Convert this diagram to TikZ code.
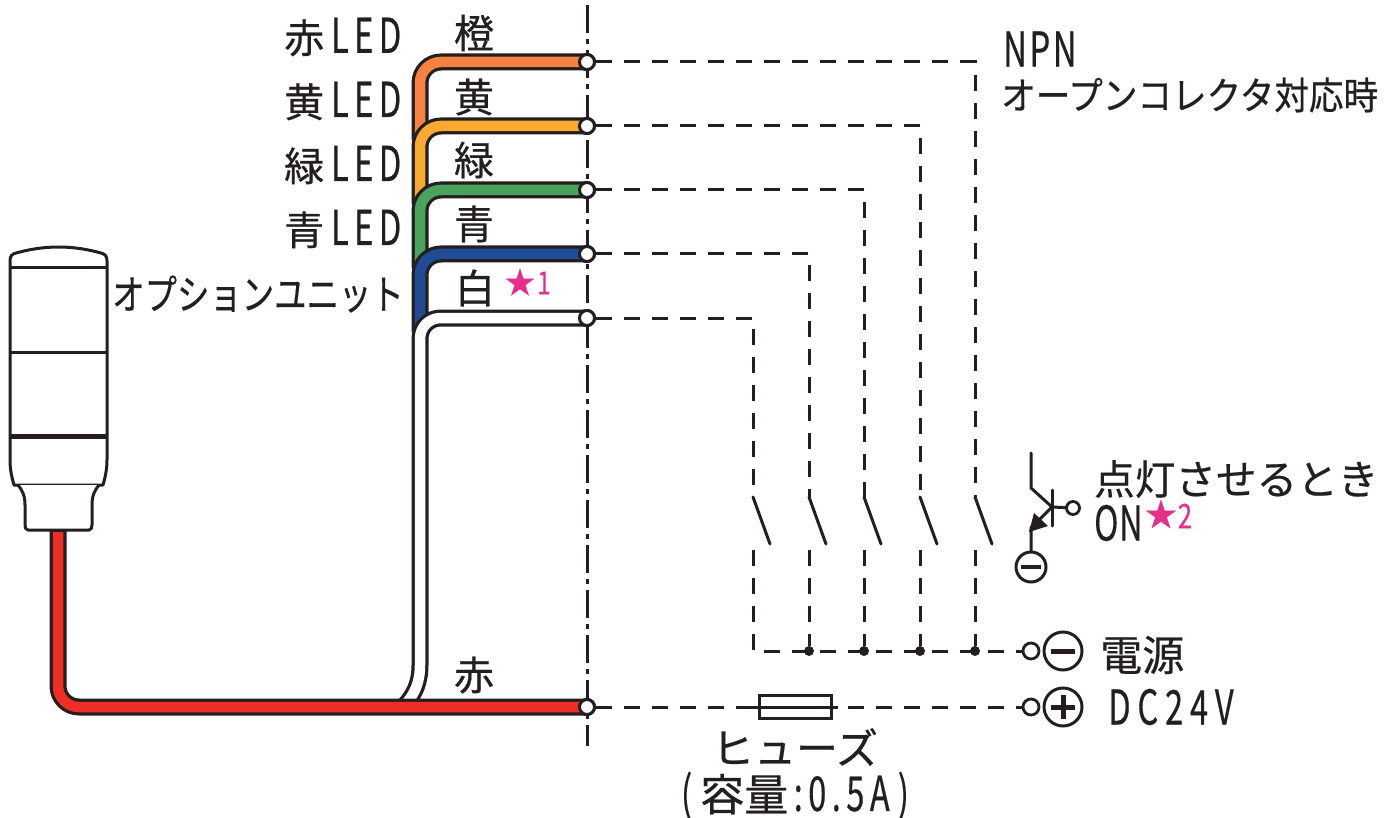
\documentclass[tikz,border=0pt]{standalone}
\usepackage{fontspec}
\usetikzlibrary{calc}
\setmainfont[FakeBold=0.5]{Noto Sans CJK JP}
\newcommand{\sx}[2]{\scalebox{#1}[1]{#2}}
\newcommand{\nl}[1]{\scalebox{0.68}[1]{\fontsize{48}{48}\selectfont #1}}
\newcommand{\gp}[1]{\hspace{#1pt}}
\definecolor{wo}{HTML}{F58240}
\definecolor{wy}{HTML}{F9A930}
\definecolor{wg}{HTML}{4AA35A}
\definecolor{wb}{HTML}{204C96}
\definecolor{wr}{HTML}{EE2E26}
\definecolor{ink}{HTML}{231F20}
\definecolor{pink}{HTML}{E62E8B}
\tikzset{
  x=1pt,y=-1pt,
  wireout/.style={line width=17pt,draw=ink,rounded corners=21pt},
  wirein/.style={line width=10.5pt,rounded corners=21pt},
  tailout/.style={line width=17pt,draw=ink,line join=round},
  tailin/.style={line width=10.5pt,draw=white,line join=round},
  term/.style={circle,draw=ink,fill=white,line width=3pt,minimum size=15pt,inner sep=0pt},
  term2/.style={circle,draw=ink,fill=white,line width=2.8pt,minimum size=16pt,inner sep=0pt},
  pole/.style={circle,draw=ink,fill=white,line width=3pt,minimum size=38pt,inner sep=0pt},
  jdot/.style={circle,fill=ink,minimum size=10pt,inner sep=0pt},
  dsh/.style={draw=ink,line width=3pt,dash pattern=on 16pt off 12pt},
  swl/.style={draw=ink,line width=3pt,line cap=round},
  body/.style={draw=ink,line width=3pt,line join=round},
  lab/.style={text=ink,font=\fontsize{38}{38}\selectfont,inner sep=0pt,anchor=center},
  lat/.style={text=ink,font=\fontsize{40}{40}\selectfont,inner sep=0pt,anchor=center},
  pstar/.style={text=pink,font=\fontsize{30}{30}\selectfont,inner sep=0pt,anchor=center},
}
\begin{document}
\begin{tikzpicture}
\useasboundingbox (0,0) rectangle (1397,818);
\fill[white] (0,0) rectangle (1397,818);

% centre dash-dot line
\coordinate (ctop) at (587,5);
\coordinate (cbot) at (587,746);
\draw[draw=ink,line width=3pt,dash pattern=on 28pt off 6pt on 5pt off 6pt] (ctop) -- (cbot);

% lamp
\draw[body,fill=white] (10,268) -- (10,261) .. controls (10,256) and (12,254) .. (16,253) .. controls (45,245) and (72,245) .. (101,253) .. controls (105,254) and (107,256) .. (107,261) -- (107,268) -- (107,436) -- (107,460) .. controls (107,470) and (105,478) .. (103,485) -- (14,485) .. controls (12,478) and (10,470) .. (10,460) -- (10,268) -- cycle;
\draw[body,fill=white] (18,485) .. controls (22,490) and (25,495) .. (25,505) -- (25,525) .. controls (25,528) and (26,530) .. (28,530) -- (89,530) .. controls (91,530) and (92,528) .. (92,525) -- (92,505) .. controls (92,495) and (95,490) .. (99,485);
\draw[body] (10,268) -- (107,268);
\draw[body] (10,352) -- (107,352);
\draw[draw=ink,line width=5pt] (10,436) -- (107,436);

% dashed circuit
\node[term] (to) at (587,62) {};
\node[term] (ty) at (587,126) {};
\node[term] (tg) at (587,190) {};
\node[term] (tb) at (587,254) {};
\node[term] (tw) at (587,318) {};
\node[term] (tr) at (587,707) {};
\node[term2] (tm) at (1031,651) {};
\node[term2] (tp) at (1031,707) {};

\coordinate (s1) at (753,497); \coordinate (s1e) at (770,544); \coordinate (s1b) at (753,550); \coordinate (b1) at (753,651);
\coordinate (s2) at (809,497); \coordinate (s2e) at (826,544); \coordinate (s2b) at (809,550);
\coordinate (s3) at (864,497); \coordinate (s3e) at (881,544); \coordinate (s3b) at (864,550);
\coordinate (s4) at (920,497); \coordinate (s4e) at (937,544); \coordinate (s4b) at (920,550);
\coordinate (s5) at (975,497); \coordinate (s5e) at (992,544); \coordinate (s5b) at (975,550);
\node[jdot] (j2) at (809,651) {};
\node[jdot] (j3) at (864,651) {};
\node[jdot] (j4) at (920,651) {};
\node[jdot] (j5) at (975,651) {};

\draw[dsh] (to) -| (s5);
\draw[dsh] (ty) -| (s4);
\draw[dsh] (tg) -| (s3);
\draw[dsh] (tb) -| (s2);
\draw[dsh] (tw) -| (s1);
\draw[swl] (s1) -- (s1e); \draw[swl] (s2) -- (s2e); \draw[swl] (s3) -- (s3e); \draw[swl] (s4) -- (s4e); \draw[swl] (s5) -- (s5e);
\draw[dsh] (s1b) -- (b1) -- (tm);
\draw[dsh] (s2b) -- (j2);
\draw[dsh] (s3b) -- (j3);
\draw[dsh] (s4b) -- (j4);
\draw[dsh] (s5b) -- (j5);

% fuse
\draw[dsh] (tr) -- (tp);
\node[draw=ink,fill=white,line width=3pt,minimum width=72pt,minimum height=23pt,inner sep=0pt] (fuse) at (795,707) {};
\coordinate (fl) at (752,707);
\coordinate (fr) at (838,707);
\draw[draw=ink,line width=3pt] (fl) -- (fr);

% poles
\node[pole] (pm) at (1063,651) {};
\draw[draw=ink,line width=5pt] ($(pm)+(-12,0)$) -- ($(pm)+(12,0)$);
\node[pole] (pp) at (1063,707) {};
\draw[draw=ink,line width=5pt] ($(pp)+(-12,0)$) -- ($(pp)+(12,0)$);
\draw[draw=ink,line width=5pt] ($(pp)+(0,-12)$) -- ($(pp)+(0,12)$);

% wires
\draw[wireout] (587,62) -- (420,62) -- (420,140);
\draw[wirein,draw=wo] (582,62) -- (420,62) -- (420,140);
\draw[wireout] (587,126) -- (420,126) -- (420,204);
\draw[wirein,draw=wy] (582,126) -- (420,126) -- (420,204);
\draw[wireout] (587,190) -- (420,190) -- (420,268);
\draw[wirein,draw=wg] (582,190) -- (420,190) -- (420,268);
\draw[wireout] (587,254) -- (420,254) -- (420,332);
\draw[wirein,draw=wb] (582,254) -- (420,254) -- (420,332);
\draw[tailout] (587,318) -- (441,318) .. controls (429,318) and (420,327) .. (420,339) -- (420,665) .. controls (420,682) and (415,695) .. (402,708);
\draw[tailin] (582,318) -- (441,318) .. controls (429,318) and (420,327) .. (420,339) -- (420,665) .. controls (420,682) and (415,695) .. (402,708);
\draw[wireout] (587,707) -- (58,707) -- (58,530);
\draw[wirein,draw=wr] (582,707) -- (58,707) -- (58,532);
\node[term] at (to) {};
\node[term] at (ty) {};
\node[term] at (tg) {};
\node[term] at (tb) {};
\node[term] at (tw) {};
\node[term] at (tr) {};

% transistor
\coordinate (c0) at (1031,453);
\coordinate (c1) at (1031,488);
\coordinate (bb) at (1052,507);
\coordinate (bt) at (1052,490);
\coordinate (bu) at (1052,526);
\coordinate (em) at (1031,528);
\node[circle,draw=ink,fill=white,line width=2.8pt,minimum size=13pt,inner sep=0pt] (tb2) at (1073,508) {};
\node[pole,minimum size=30pt] (pe) at (1031,567) {};
\draw[swl] (c0) -- (c1) -- (bb) -- (em) -- (pe);
\draw[swl] (bt) -- (bu);
\draw[swl] (bb) -- (tb2);
\fill[ink] (1029,532) -- (1034,513) -- (1048,526) -- cycle;
\draw[draw=ink,line width=4.5pt] ($(pe)+(-10,0)$) -- ($(pe)+(10,0)$);

% left labels
\node[lat,anchor=west] (l1) at (284,37) {赤\nl{\gp{10}L\gp{8}E\gp{8}D}};
\node[lat,anchor=west] (l2) at (284,101) {黄\nl{\gp{10}L\gp{8}E\gp{8}D}};
\node[lat,anchor=west] (l3) at (284,165) {緑\nl{\gp{10}L\gp{8}E\gp{8}D}};
\node[lat,anchor=west] (l4) at (284,229) {青\nl{\gp{10}L\gp{8}E\gp{8}D}};
\node[lab] (opt) at (258,294) {\fontsize{41}{41}\selectfont\sx{0.79}{オプションユニット}};

% wire labels
\node[lat] (n1) at (474,33) {橙};
\node[lat] (n2) at (474,97) {黄};
\node[lat] (n3) at (474,160) {緑};
\node[lat] (n4) at (474,224) {青};
\node[lat] (n5) at (475,288) {白};
\node[lat] (n6) at (474,675) {赤};
\node[pstar] (st1) at (520,282) {★};
\node[pstar,font=\fontsize{32}{32}\selectfont] (st1n) at (544,283) {\sx{0.75}{1}};

% right labels
\node[lat,anchor=west] (npn) at (1003,49) {\nl{N\gp{4}P\gp{4}N}};
\node[lab,anchor=west] (oc) at (1001,95) {\fontsize{38}{38}\selectfont\sx{0.91}{オープンコレクタ対応時}};
\node[lab,anchor=west] (lit) at (1094,479) {\fontsize{41}{41}\selectfont\sx{0.99}{点灯させるとき}};
\node[lat,anchor=west] (on) at (1094,523) {\nl{O\gp{1}N}};
\node[pstar,font=\fontsize{32}{32}\selectfont] (st2) at (1161,514) {★};
\node[pstar,font=\fontsize{34}{34}\selectfont] (st2n) at (1185,516) {\sx{0.75}{2}};
\node[lat,anchor=west] (pw) at (1100,655) {\fontsize{42}{42}\selectfont 電源};
\node[lat,anchor=west] (dc) at (1108,707) {\nl{D\gp{10}C\gp{10}2\gp{10}4\gp{10}V}};
\node[lab] (fz) at (795,747) {\fontsize{42}{42}\selectfont ヒューズ};
\node[lat] (cap) at (795,796) {\nl{(\gp{12}}\fontsize{44}{44}\selectfont 容量\nl{\gp{8}:\gp{8}0\gp{8}.\gp{8}5\gp{8}A\gp{12})}};
\end{tikzpicture}
\end{document}
